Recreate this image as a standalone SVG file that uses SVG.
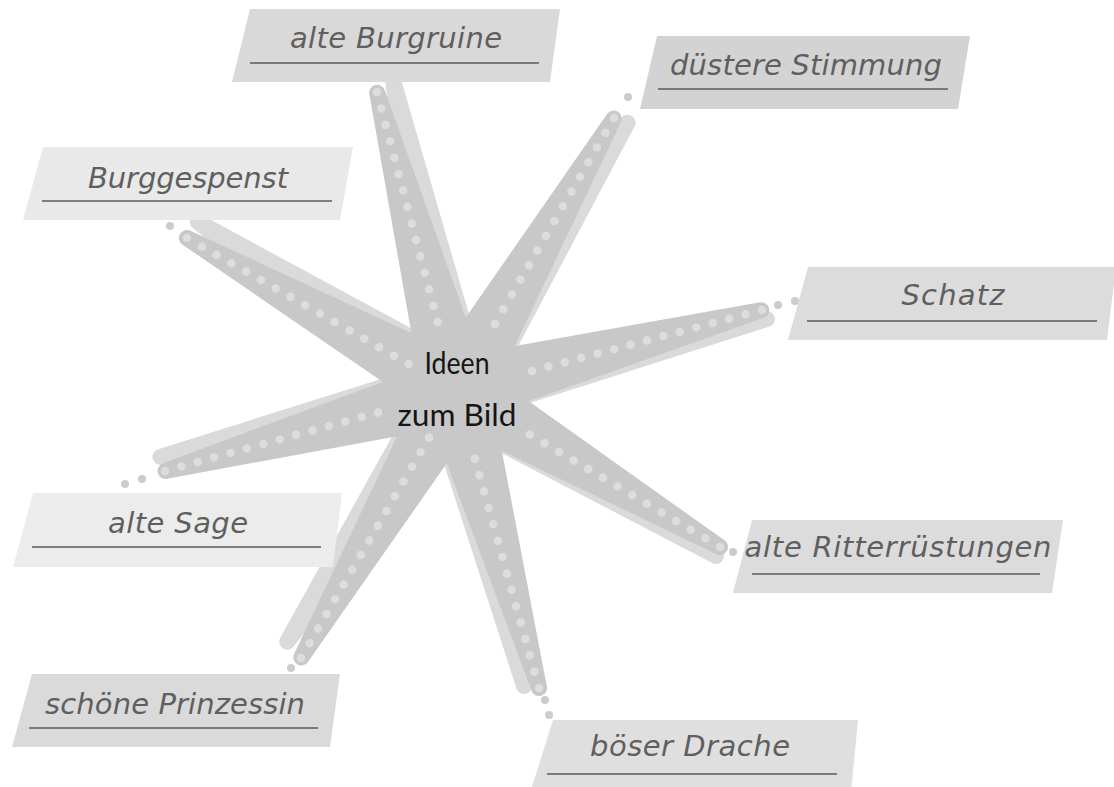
<svg xmlns="http://www.w3.org/2000/svg" width="1114" height="787" viewBox="0 0 1114 787">
<style>
.light{fill:#dadada}
.dark{fill:#c8c8c8}
.dots{stroke:#dddddd;stroke-width:8.5;stroke-linecap:round;stroke-dasharray:0 17;fill:none}
.tdot{fill:#cccccc}
.ul{stroke:#5a5a5a;stroke-width:1.6}
.lbl{font-family:"DejaVu Sans",sans-serif;font-style:oblique;font-size:29px;fill:#5f5f5f;text-anchor:middle}
.ctr{font-family:Lato,"Open Sans",sans-serif;font-size:31px;fill:#151515;text-anchor:middle}
</style>
<rect width="1114" height="787" fill="#ffffff"/>
<g id="connectors">
  <g id="shadow-arms" class="light">
    <path d="M489.3,384.3 L400.8,78.4 A8,8 0 0 0 385.2,81.6 L422.7,397.8 Z"/>
    <path d="M484.6,409.3 L634.7,126.3 A8,8 0 0 0 621.3,117.7 L427.4,372.7 Z"/>
    <path d="M474.6,362.6 L202.4,215.3 A8,8 0 0 0 193.6,228.7 L437.4,419.4 Z"/>
    <path d="M463.7,424.1 L768.8,326.8 A8,8 0 0 0 765.2,311.2 L448.3,357.9 Z"/>
    <path d="M437.8,419.7 L711.7,562.8 A8,8 0 0 0 720.3,549.2 L474.2,362.3 Z"/>
    <path d="M448.6,357.8 L158.3,449.2 A8,8 0 0 0 161.7,464.8 L463.4,424.2 Z"/>
    <path d="M427.8,372.0 L280.4,637.5 A8,8 0 0 0 293.6,646.5 L484.2,410.0 Z"/>
    <path d="M422.9,398.6 L516.2,687.8 A8,8 0 0 0 531.8,684.2 L489.1,383.4 Z"/>
  </g>
  <g id="arms" class="dark">
    <circle cx="456" cy="391" r="38"/>
    <path d="M488.9,382.3 L384.7,90.0 A8,8 0 0 0 369.3,94.0 L423.1,399.7 Z"/>
    <path d="M485.4,408.0 L620.9,122.0 A8,8 0 0 0 607.1,114.0 L426.6,374.0 Z"/>
    <path d="M472.8,361.5 L191.0,231.0 A8,8 0 0 0 183.0,245.0 L439.2,420.6 Z"/>
    <path d="M464.7,423.9 L764.0,317.7 A8,8 0 0 0 760.0,302.3 L447.3,358.1 Z"/>
    <path d="M438.7,420.3 L715.9,553.9 A8,8 0 0 0 724.1,540.1 L473.3,361.7 Z"/>
    <path d="M447.0,358.2 L162.9,463.3 A8,8 0 0 0 167.1,478.7 L465.0,423.8 Z"/>
    <path d="M426.6,373.9 L294.1,654.0 A8,8 0 0 0 307.9,662.0 L485.4,408.1 Z"/>
    <path d="M423.3,400.1 L531.3,690.2 A8,8 0 0 0 546.7,685.8 L488.7,381.9 Z"/>
  </g>
  <g id="arm-dots" class="dots">
    <line x1="377" y1="92" x2="438.0" y2="323.0"/>
    <line x1="614" y1="118" x2="494.3" y2="324.9"/>
    <line x1="187" y1="238" x2="409.5" y2="364.5"/>
    <line x1="762" y1="310" x2="530.9" y2="371.2"/>
    <line x1="720" y1="547" x2="528.9" y2="434.0"/>
    <line x1="165" y1="471" x2="379.1" y2="412.1"/>
    <line x1="301" y1="658" x2="429.5" y2="436.6"/>
    <line x1="539" y1="688" x2="474.7" y2="457.8"/>
  </g>
  <g id="trail-dots" class="tdot">
    <circle cx="628" cy="97" r="4"/>
    <circle cx="170" cy="226" r="4"/>
    <circle cx="778" cy="305" r="4"/>
    <circle cx="795" cy="301" r="4"/>
    <circle cx="733" cy="552" r="4"/>
    <circle cx="125" cy="484" r="4"/>
    <circle cx="142" cy="479" r="4"/>
    <circle cx="291" cy="668" r="4"/>
    <circle cx="545" cy="700" r="4"/>
    <circle cx="549" cy="715" r="4"/>
  </g>
</g>
<g id="center">
  <text class="ctr" x="457" y="374" textLength="65" lengthAdjust="spacingAndGlyphs">Ideen</text>
  <text class="ctr" x="457" y="426" textLength="119" lengthAdjust="spacingAndGlyphs">zum Bild</text>
</g>
<g id="n-burgruine">
  <polygon points="250,9 560,9 550,82 232,82" fill="#d9d9d9"/>
  <line class="ul" x1="250" y1="63" x2="539" y2="63"/>
  <text class="lbl" x="396" y="48" textLength="212">alte Burgruine</text>
</g>
<g id="n-stimmung">
  <polygon points="657,36 970,36 958,109 640,109" fill="#d3d3d3"/>
  <line class="ul" x1="658" y1="89" x2="948" y2="89"/>
  <text class="lbl" x="806" y="75" textLength="272">düstere Stimmung</text>
</g>
<g id="n-burggespenst">
  <polygon points="43,147 353,147 340,220 23,220" fill="#e9e9e9"/>
  <line class="ul" x1="42" y1="201" x2="332" y2="201"/>
  <text class="lbl" x="188" y="188" textLength="200">Burggespenst</text>
</g>
<g id="n-schatz">
  <polygon points="808,267 1116,267 1107,340 788,340" fill="#dcdcdc"/>
  <line class="ul" x1="807" y1="321" x2="1097" y2="321"/>
  <text class="lbl" x="953" y="305" textLength="103">Schatz</text>
</g>
<g id="n-ritter">
  <polygon points="752,520 1063,520 1052,593 733,593" fill="#dcdcdc"/>
  <line class="ul" x1="752" y1="574" x2="1040" y2="574"/>
  <text class="lbl" x="898" y="557" textLength="307">alte Ritterrüstungen</text>
</g>
<g id="n-sage">
  <polygon points="33,493 342,493 333,567 13,567" fill="#ececec"/>
  <line class="ul" x1="32" y1="547" x2="321" y2="547"/>
  <text class="lbl" x="178" y="533" textLength="140">alte Sage</text>
</g>
<g id="n-prinzessin">
  <polygon points="32,674 340,674 330,747 12,747" fill="#dadada"/>
  <line class="ul" x1="29" y1="728" x2="318" y2="728"/>
  <text class="lbl" x="175" y="714" textLength="260">schöne Prinzessin</text>
</g>
<g id="n-drache">
  <polygon points="553,720 858,720 851,793 530,793" fill="#dfdfdf"/>
  <line class="ul" x1="547" y1="774" x2="837" y2="774"/>
  <text class="lbl" x="690" y="756" textLength="200">böser Drache</text>
</g>
</svg>
